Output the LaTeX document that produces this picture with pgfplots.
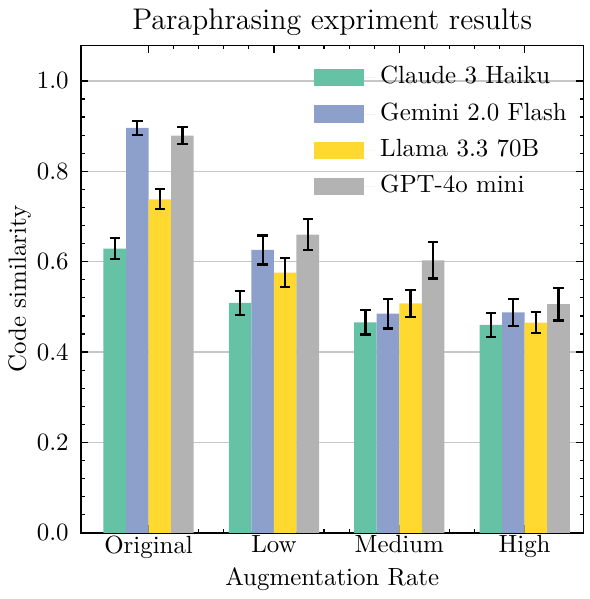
\documentclass[border=0pt]{standalone}
\usepackage{pgfplots}
\pgfplotsset{compat=1.18}

\definecolor{cgreen}{HTML}{66C2A5}
\definecolor{cblue}{HTML}{8DA0CB}
\definecolor{cyellow}{HTML}{FFD92F}
\definecolor{cgrey}{HTML}{B3B3B3}

\begin{document}
\begin{tikzpicture}
\begin{axis}[
    width=202pt, height=196pt,
    scale only axis,
    ybar,
    bar width=0.18,
    xmin=-0.54, xmax=3.47,
    ymin=0, ymax=1.079,
    xtick={0,1,2,3},
    xticklabels={Original, Low, Medium, High},
    minor x tick num=4,
    ytick={0,0.2,0.4,0.6,0.8,1.0},
    minor y tick num=4,
    yticklabel style={/pgf/number format/fixed, /pgf/number format/fixed zerofill,
        /pgf/number format/precision=1, xshift=-1.4pt},
    xticklabel style={yshift=2.5pt},
    tick align=inside,
    major tick length=3pt,
    minor tick length=1.5pt,
    every tick/.style={black, line width=0.5pt},
    axis line style={line width=0.5pt},
    ymajorgrids,
    grid style={gray!45, line width=0.6pt},
    title={\large Paraphrasing expriment results},
    title style={yshift=-5.5pt},
    xlabel={Augmentation Rate},
    xlabel style={yshift=3pt},
    ylabel={Code similarity},
    ylabel style={yshift=-4.5pt},
    legend style={draw=none, fill=none, at={(0.99,0.975)}, anchor=north east,
        row sep=2.6pt, nodes={inner sep=1.5pt, text height=7pt, text depth=2pt},
        legend cell align=left},
    legend image code/.code={\fill[#1] (0pt,-3.5pt) rectangle (20pt,3.5pt);
        \path (0pt,0pt) -- (25pt,0pt);},
    error bars/y dir=both,
    error bars/y explicit,
    error bars/error bar style={black, line width=0.9pt},
    error bars/error mark options={black, rotate=90, mark size=2.1pt, line width=0.9pt},
]
\addplot[fill=cgreen, draw=none, bar shift=-0.27] coordinates {
    (0,0.629) +- (0,0.023)
    (1,0.509) +- (0,0.027)
    (2,0.466) +- (0,0.027)
    (3,0.460) +- (0,0.027)
};
\addplot[fill=cblue, draw=none, bar shift=-0.09] coordinates {
    (0,0.896) +- (0,0.016)
    (1,0.626) +- (0,0.032)
    (2,0.485) +- (0,0.033)
    (3,0.488) +- (0,0.030)
};
\addplot[fill=cyellow, draw=none, bar shift=0.09] coordinates {
    (0,0.738) +- (0,0.022)
    (1,0.576) +- (0,0.032)
    (2,0.508) +- (0,0.030)
    (3,0.465) +- (0,0.023)
};
\addplot[fill=cgrey, draw=none, bar shift=0.27] coordinates {
    (0,0.879) +- (0,0.019)
    (1,0.660) +- (0,0.034)
    (2,0.603) +- (0,0.040)
    (3,0.506) +- (0,0.036)
};
\legend{Claude 3 Haiku, Gemini 2.0 Flash, Llama 3.3 70B, GPT-4o mini}
\end{axis}
\path (current bounding box.east) ++(2pt,0) coordinate (e);
\path (current bounding box.north east) (e);
\end{tikzpicture}
\end{document}
